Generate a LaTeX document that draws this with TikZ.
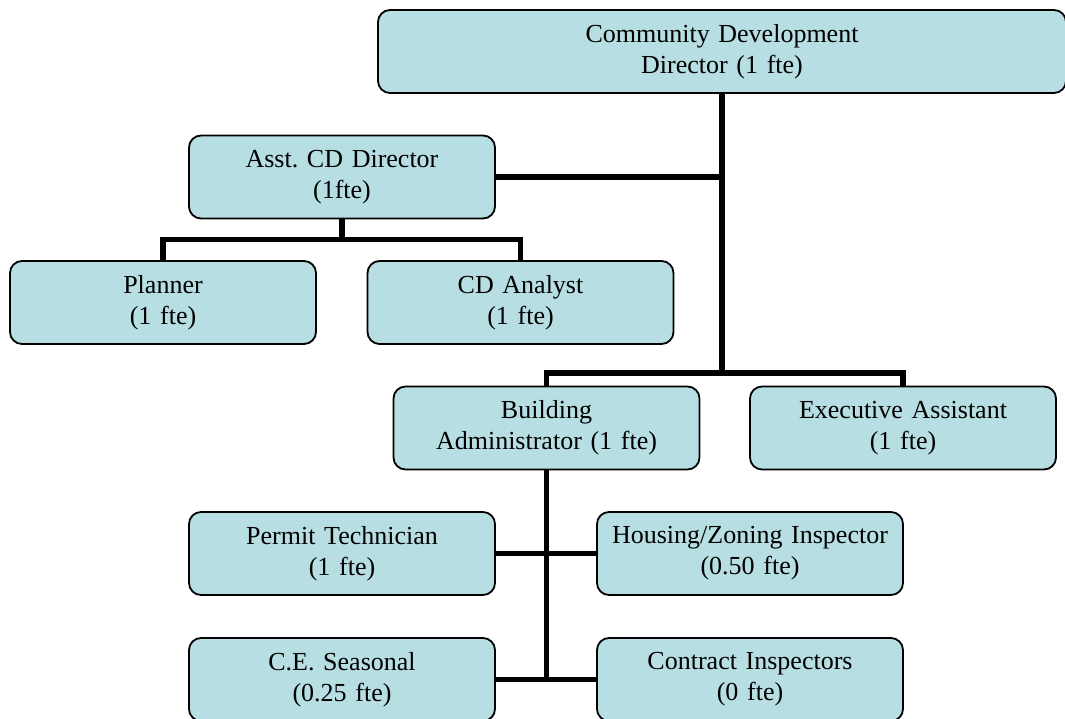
\documentclass[tikz,border=0pt]{standalone}
\usepackage{fontspec}
\setmainfont{Liberation Serif}
\usepackage{tikz}
\usetikzlibrary{calc}

\definecolor{boxblue}{RGB}{183,222,226}

\begin{document}
\frenchspacing
\begin{tikzpicture}[x=1pt,y=-1pt]
		\tikzstyle{job}=[draw,rounded corners=12pt,fill=boxblue,line width=1.8pt,minimum height=83pt,minimum width=306pt,text width=300pt,align=center,inner sep=0pt,font=\fontsize{26}{31}\selectfont]
		\tikzstyle{link}=[line width=5.5pt]
		\useasboundingbox (0,0) rectangle (1065,719);

		% director and the staff under him
		\node[job,minimum width=688pt,text width=680pt] (dir) at (722,51.5) {Community Development\\Director (1 fte)};
		\node[job] (asst) at (342,177) {Asst. CD Director\\(1fte)};
		\node[job] (plan) at (163,302.5) {Planner\\(1 fte)};
		\node[job] (anal) at (520.5,302.5) {CD Analyst\\(1 fte)};
		\node[job] (bldg) at (546.5,428) {Building\\Administrator (1 fte)};
		\node[job] (exec) at (903,428) {Executive Assistant\\(1 fte)};
		\node[job] (perm) at (342,553.5) {Permit Technician\\(1 fte)};
		\node[job] (hous) at (750,553.5) {Housing/Zoning Inspector\\(0.50 fte)};
		\node[job] (seas) at (342,679.5) {C.E. Seasonal\\(0.25 fte)};
		\node[job] (cont) at (750,679.5) {Contract Inspectors\\(0 fte)};

		% reporting lines
		\coordinate (trunk) at ($(dir.south)+(0,279)$);
		\draw[link] (dir.south) -- (trunk);
		\draw[link] (asst.east) -- (asst.east -| trunk);
		\draw[link] (asst.south) -- +(0,20);
		\draw[link] (plan.north) |- ($(asst.south)+(0,20)$) -| (anal.north);
		\draw[link] (bldg.north) |- (trunk) -| (exec.north);
		\draw[link] (bldg.south) -- (bldg |- seas);
		\foreach \i/\j in {perm/hous,seas/cont}
		\draw[link] (\i.east) -- (\j.west);

	\end{tikzpicture}
\end{document}
